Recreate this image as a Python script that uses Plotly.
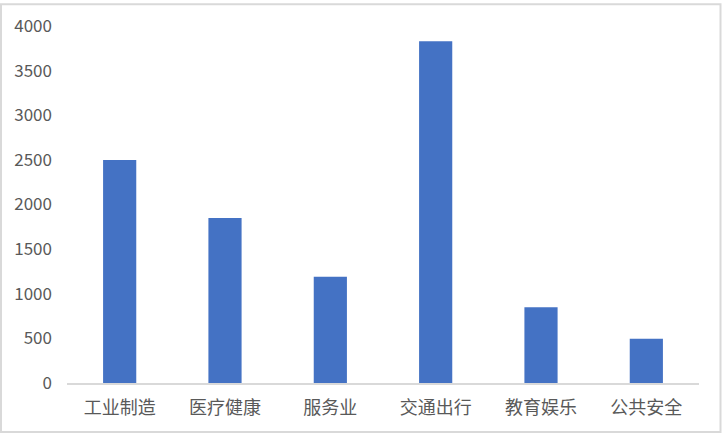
import plotly.graph_objects as go

# data
categories = ["工业制造", "医疗健康", "服务业", "交通出行", "教育娱乐", "公共安全"]
values = [2500, 1850, 1190, 3830, 850, 495]
y_ticks = [0, 500, 1000, 1500, 2000, 2500, 3000, 3500, 4000]

W, H = 722, 434
L, R, T, B = 67, 23, 23, 51
pw, ph = W - L - R, H - T - B


def px_x(p):
    return (p - L) / pw


def px_y(p):
    return (H - B - p) / ph


fig = go.Figure(
    go.Bar(
        x=categories,
        y=values,
        marker=dict(color="#4472C4", line=dict(width=0)),
    )
)

fig.update_layout(
    width=W,
    height=H,
    margin=dict(l=L, r=R, t=T, b=B),
    paper_bgcolor="white",
    plot_bgcolor="white",
    bargap=0.685,
    showlegend=False,
    font=dict(family="Noto Sans CJK SC", size=18, color="#595959"),
    shapes=[
        dict(
            type="rect",
            xref="paper", yref="paper",
            x0=px_x(1), x1=px_x(720.5),
            y0=px_y(432.5), y1=px_y(1),
            line=dict(color="#d9d9d9", width=2),
            layer="below",
        )
    ],
)

fig.update_xaxes(
    showgrid=False,
    showline=True,
    linecolor="#d9d9d9",
    linewidth=1.5,
    ticks="",
    ticklabelstandoff=8,
    tickfont=dict(size=18, color="#595959"),
)

fig.update_yaxes(
    range=[0, 4000],
    tickvals=y_ticks,
    showgrid=False,
    zeroline=False,
    showline=False,
    ticks="",
    ticklabelstandoff=14,
    tickfont=dict(size=17, color="#595959"),
)

# the page body has a default 8px margin; drop it so the chart sits at 0,0
fig.write_html(
    "out.html",
    config={"displayModeBar": False},
    post_script="document.body.style.margin='0';",
)
